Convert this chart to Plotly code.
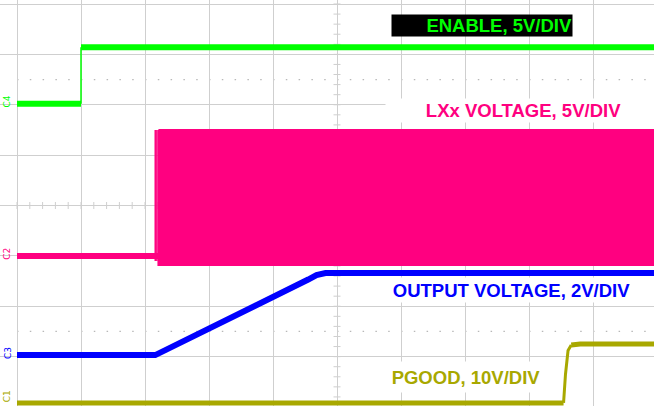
import plotly.graph_objects as go

# ---- data (in screen divisions: x = time div, y = vertical div from bottom) ----
enable_t = [0.0, 1.0, 1.0, 10.0]
enable_v = [6.02, 6.02, 7.14, 7.14]

lx_base_t = [0.0, 2.21]
lx_base_v = [3.0, 3.0]
lx_spike_t = [2.16, 2.16, None, 2.185, 2.185]
lx_spike_v = [2.9, 5.5, None, 2.9, 5.5]
lx_block_t = [2.21, 10.0, 10.0, 2.21, 2.21]
lx_block_v = [5.50, 5.50, 2.82, 2.82, 5.50]

vout_t = [0.0, 2.16, 4.55, 4.68, 4.82, 10.0]
vout_v = [1.03, 1.03, 2.53, 2.62, 2.66, 2.66]

pgood_t = [0.0, 8.54, 8.57, 8.61, 8.66, 8.8, 10.0]
pgood_v = [0.08, 0.08, 0.65, 1.12, 1.23, 1.25, 1.25]

labels = ["ENABLE, 5V/DIV", "LXx VOLTAGE, 5V/DIV", "OUTPUT VOLTAGE, 2V/DIV", "PGOOD, 10V/DIV"]
ch_names = ["C4", "C2", "C3", "C1"]
ch_levels = [enable_v[0], lx_base_v[0], vout_v[0], pgood_v[0]]

GREEN = "#00FF00"
PINK = "#FF0080"
BLUE = "#0000FF"
OLIVE = "#A8A800"
GRID = "#CFCFCF"

fig = go.Figure()

# graticule centre ticks
tick_vals = [i * 0.2 for i in range(0, 51)]
fig.add_trace(go.Scatter(x=tick_vals, y=[4] * len(tick_vals), mode="markers",
                         marker=dict(symbol="line-ns", size=5, line=dict(color=GRID, width=1)),
                         hoverinfo="skip", showlegend=False))
ytick_vals = [i * 0.2 for i in range(0, 41)]
fig.add_trace(go.Scatter(x=[5] * len(ytick_vals), y=ytick_vals, mode="markers",
                         marker=dict(symbol="line-ew", size=5, line=dict(color=GRID, width=1)),
                         hoverinfo="skip", showlegend=False))

# traces
fig.add_trace(go.Scatter(x=lx_block_t, y=lx_block_v, mode="lines", fill="toself",
                         fillcolor=PINK, line=dict(color=PINK, width=2), showlegend=False))
fig.add_trace(go.Scatter(x=lx_base_t, y=lx_base_v, mode="lines",
                         line=dict(color=PINK, width=6), showlegend=False))
fig.add_trace(go.Scatter(x=lx_spike_t, y=lx_spike_v, mode="lines",
                         line=dict(color=PINK, width=1.5), showlegend=False))

# enable: thick levels, thin edge
fig.add_trace(go.Scatter(x=enable_t[0:2], y=enable_v[0:2], mode="lines",
                         line=dict(color=GREEN, width=6), showlegend=False))
fig.add_trace(go.Scatter(x=enable_t[1:3], y=enable_v[1:3], mode="lines",
                         line=dict(color=GREEN, width=1.5), showlegend=False))
fig.add_trace(go.Scatter(x=enable_t[2:4], y=enable_v[2:4], mode="lines",
                         line=dict(color=GREEN, width=6), showlegend=False))

fig.add_trace(go.Scatter(x=vout_t, y=vout_v, mode="lines",
                         line=dict(color=BLUE, width=6), showlegend=False))

# pgood: thick levels, thinner edge
fig.add_trace(go.Scatter(x=pgood_t[0:2], y=pgood_v[0:2], mode="lines",
                         line=dict(color=OLIVE, width=5), showlegend=False))
fig.add_trace(go.Scatter(x=pgood_t[1:5], y=pgood_v[1:5], mode="lines",
                         line=dict(color=OLIVE, width=3), showlegend=False))
fig.add_trace(go.Scatter(x=pgood_t[4:], y=pgood_v[4:], mode="lines",
                         line=dict(color=OLIVE, width=5), showlegend=False))

# dotted half-division lines
for yv in [6.5, 1.5]:
    fig.add_shape(type="line", x0=0, x1=10, y0=yv, y1=yv, xref="x", yref="y",
                  line=dict(color="#B8B8B8", width=1.2, dash="1.5px,11.3px"), layer="below")

font_b = "Liberation Sans, Arial, sans-serif"
# Labels
fig.add_annotation(x=7.27, y=7.58, text="<b>" + labels[0] + "</b>", showarrow=False,
                   font=dict(family=font_b, size=18.5, color=GREEN), bgcolor="black",
                   width=180, height=21, align="right", borderpad=0)
fig.add_annotation(x=7.92, y=5.88, text="<b>" + labels[1] + "</b>", showarrow=False,
                   font=dict(family=font_b, size=18.5, color=PINK), bgcolor="white",
                   width=275, height=23, align="center", borderpad=0)
fig.add_annotation(x=7.73, y=2.32, text="<b>" + labels[2] + "</b>", showarrow=False,
                   font=dict(family=font_b, size=18.5, color=BLUE), bgcolor="white",
                   width=285, height=24, align="center", borderpad=0)
fig.add_annotation(x=7.02, y=0.6, text="<b>" + labels[3] + "</b>", showarrow=False,
                   font=dict(family=font_b, size=18.5, color=OLIVE), bgcolor="white",
                   width=170, height=30, align="center", borderpad=0)

# channel markers
for name, lvl, col in zip(ch_names, ch_levels, [GREEN, PINK, BLUE, OLIVE]):
    fig.add_annotation(x=-0.15, y=max(lvl + 0.05, 0.22), text=name, showarrow=False, textangle=-90,
                       font=dict(family="DejaVu Sans", size=9, color=col))

fig.update_layout(
    width=654, height=406,
    margin=dict(l=0, r=0, t=0, b=0),
    paper_bgcolor="white", plot_bgcolor="white",
    xaxis=dict(range=[-17 / 64, 637 / 64], dtick=1, tick0=0, showgrid=True, gridcolor=GRID,
               gridwidth=1, zeroline=False, showticklabels=False, ticks="", fixedrange=True),
    yaxis=dict(range=[1 / 50.375, 407 / 50.375], dtick=1, tick0=0, showgrid=True, gridcolor=GRID,
               gridwidth=1, zeroline=False, showticklabels=False, ticks="", fixedrange=True),
)

fig.write_html("out.html", config={"displayModeBar": False},
               post_script="document.body.style.margin='0';document.body.style.overflow='hidden';")
